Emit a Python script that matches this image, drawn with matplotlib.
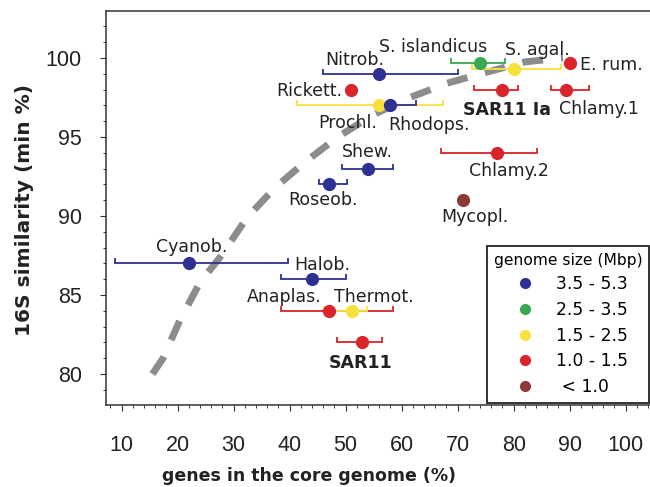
import matplotlib
matplotlib.use('Agg')
import matplotlib.pyplot as plt
import numpy as np
from matplotlib.path import Path
from matplotlib.ticker import MultipleLocator
from matplotlib.lines import Line2D

# genome-size groups (legend)
groups = ['3.5 - 5.3', '2.5 - 3.5', '1.5 - 2.5', '1.0 - 1.5', ' < 1.0']
group_colors = ['#2e3192', '#38a853', '#f9e13c', '#d92429', '#8b3a35']

# organisms
names = ['Nitrob.', 'S. islandicus', 'S. agal.', 'E. rum.', 'SAR11 Ia', 'Chlamy.1',
         'Rickett.', 'Prochl.', 'Rhodops.', 'Shew.', 'Roseob.', 'Chlamy.2',
         'Mycopl.', 'Cyanob.', 'Halob.', 'Anaplas.', 'Thermot.', 'SAR11']
grp = [0, 1, 2, 3, 3, 3, 3, 2, 0, 0, 0, 3, 4, 0, 0, 3, 2, 3]
core = [56, 74, 80, 90, 78, 89.3, 51, 56, 58, 54, 47, 77, 71, 22, 44, 47, 51.1, 53]
sim16s = [99, 99.7, 99.3, 99.7, 98, 98, 98, 97, 97, 93, 92, 94, 91, 87, 86, 84, 84, 82]
core_lo = [46, 68.75, 72.5, None, 72.9, 86.6, None, 41.4, 56.25, 49.3, 45.2, 67,
           None, 8.9, 38.4, 38.4, 46.2, 48.4]
core_hi = [70, 78.4, 88.4, None, 80.7, 93.5, None, 67.3, 62.6, 58.5, 50.3, 84.2,
           None, 39.75, 50.05, 58.5, 53.9, 56.5]
bold = ['SAR11 Ia', 'SAR11']

# label positions
lab_x = [51.6, 65.6, 84.3, 97.5, 78.9, 95.3, 43.5, 50.3, 64.9, 53.9, 46.0, 79.1,
         73.0, 22.55, 45.8, 39.0, 55.0, 52.6]
lab_y = [99.87, 100.7, 100.5, 99.56, 96.7, 96.8, 97.93, 95.9, 95.76, 94.07, 91.0,
         92.87, 89.96, 88.06, 86.9, 84.9, 84.9, 80.68]

# trend curve
curve_x = [15.5, 17.4, 20.4, 24.0, 27.6, 32.4, 37.4, 42.7, 48.6, 54.9, 61.5, 68.1,
           75.2, 82.0, 88.8]
curve_y = [80.0, 81.0, 83.4, 85.8, 87.4, 89.9, 91.8, 93.4, 95.0, 96.4, 97.5, 98.4,
           99.1, 99.75, 100.0]

fig = plt.figure(figsize=(6.5, 4.87), dpi=100)
ax = fig.add_axes([106/650, 82/487, 547/650, 394/487])
ax.set_xlim(7.21, 104.88)
ax.set_ylim(78.04, 102.97)

ax.plot(curve_x, curve_y, color='#8a8c8e', lw=5, dashes=(3, 2.6),
        solid_capstyle='butt', dash_capstyle='butt', zorder=1)

cap = Path([(0, 0), (0, 1)], [Path.MOVETO, Path.LINETO])

for i in range(len(names)):
    c = group_colors[grp[i]]
    if core_lo[i] is not None:
        ax.plot([core_lo[i], core_hi[i]], [sim16s[i], sim16s[i]], color=c, lw=1.3,
                marker=cap, ms=7, mew=1.3, zorder=2)
for i in range(len(names)):
    c = group_colors[grp[i]]
    ax.plot(core[i], sim16s[i], 'o', color=c, ms=9.5, mec='none', zorder=3)
    ax.text(lab_x[i], lab_y[i], names[i], ha='center', va='center',
            fontsize=12.5, color='#222222',
            fontweight='bold' if names[i] in bold else 'normal')

ax.set_xticks(range(10, 101, 10))
ax.set_yticks(range(80, 101, 5))
ax.xaxis.set_minor_locator(MultipleLocator(2))
ax.yaxis.set_minor_locator(MultipleLocator(1))
ax.tick_params(which='major', direction='out', length=4.5, width=0.8, color='#333333')
ax.tick_params(which='minor', direction='out', length=2.5, width=0.7, color='#333333')
ax.tick_params(axis='x', which='major', pad=17)
ax.tick_params(axis='y', which='major', pad=13)
for lbl in ax.get_xticklabels() + ax.get_yticklabels():
    lbl.set_fontfamily('Liberation Sans')
    lbl.set_fontsize(15.5)
    lbl.set_color('#222222')

ax.spines['right'].set_visible(False)
for s in ['left', 'bottom', 'top']:
    ax.spines[s].set_color('#333333')
    ax.spines[s].set_linewidth(1.1)

ax.set_xlabel('genes in the core genome (%)', fontsize=12.5, fontweight='bold',
              color='#222222')
ax.set_ylabel('16S similarity (min %)', fontsize=14.5, fontweight='bold',
              color='#222222')
ax.xaxis.set_label_coords(0.371, -0.157)
ax.yaxis.set_label_coords(-0.132, 0.495)

handles = [Line2D([], [], ls='', marker='o', ms=8, mec='none', color=c)
           for c in group_colors]
leg = fig.legend(handles, groups, title='genome size (Mbp)', loc='lower right',
                 bbox_to_anchor=(649/650, 1 - 403/487), fontsize=12.3,
                 title_fontsize=11.2, frameon=True, fancybox=False,
                 framealpha=1, edgecolor='#222222', borderpad=0.4,
                 handlelength=2.07, handletextpad=0.75, labelspacing=0.45,
                 borderaxespad=0)
leg.get_frame().set_linewidth(1.3)

fig.savefig('out.png', dpi=100)
